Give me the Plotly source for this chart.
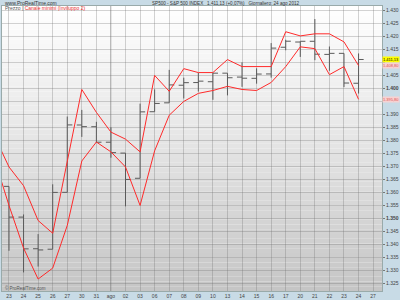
import plotly.graph_objects as go

# ---- data ----
tick_labels = ["23", "24", "25", "26", "27", "30", "31", "ago", "02", "03", "06", "07", "08", "09",
               "10", "13", "14", "15", "16", "17", "20", "21", "22", "23", "24", "27"]

# daily OHLC, 23 lug .. 24 ago 2012
open_ = [1362.34, 1350.52, 1338.35, 1338.17, 1360.05, 1385.94, 1385.27, 1379.32, 1375.13, 1365.45,
         1391.04, 1394.46, 1401.23, 1402.26, 1402.58, 1405.87, 1404.36, 1403.89, 1405.57, 1415.84,
         1417.85, 1418.13, 1413.09, 1413.49, 1401.99]
high = [1362.34, 1351.53, 1343.98, 1363.13, 1389.19, 1391.74, 1387.16, 1385.03, 1375.13, 1394.16,
        1399.63, 1407.14, 1404.14, 1405.95, 1405.98, 1405.87, 1410.03, 1407.73, 1417.44, 1418.71,
        1418.13, 1426.68, 1416.12, 1413.49, 1413.46]
low = [1337.56, 1329.24, 1331.50, 1338.17, 1360.05, 1381.37, 1379.17, 1373.35, 1354.65, 1365.45,
       1391.04, 1394.46, 1396.13, 1398.80, 1395.62, 1397.32, 1400.60, 1401.83, 1404.15, 1414.67,
       1412.12, 1410.86, 1406.78, 1400.50, 1398.04]
close = [1350.52, 1338.31, 1337.89, 1360.02, 1385.97, 1385.30, 1379.32, 1375.32, 1365.00, 1390.99,
         1394.23, 1401.35, 1402.22, 1402.80, 1405.87, 1404.11, 1403.93, 1405.53, 1415.51, 1418.16,
         1418.13, 1413.17, 1413.49, 1402.08, 1411.13]

# envelope lines, 20 lug .. 24 ago (first point is off the left edge)
env_upper = [1381.7, 1369.8, 1362.6, 1349.2, 1344.3, 1371.8, 1399.6, 1390.8, 1383.2, 1380.5, 1375.6,
             1405.0, 1398.9, 1407.6, 1406.1, 1406.1, 1411.1, 1408.4, 1408.4, 1408.4, 1421.8,
             1420.2, 1421.0, 1421.0, 1417.9, 1408.8]
env_lower = [1372.9, 1355.0, 1338.6, 1326.7, 1330.9, 1347.3, 1372.1, 1379.4, 1375.6, 1369.8, 1355.0,
             1376.0, 1389.7, 1395.0, 1398.1, 1399.2, 1400.8, 1399.6, 1399.2, 1402.3, 1408.4,
             1416.0, 1415.3, 1405.3, 1408.4, 1395.8]

y_tick_vals = [1325, 1330, 1335, 1340, 1345, 1350, 1355, 1360, 1365, 1370, 1375, 1380, 1385,
               1390, 1395, 1400, 1405, 1410, 1415, 1420, 1425, 1430]
y_tick_text = ["1.325", "1.330", "1.335", "1.340", "1.345", "<b>1.350</b>", "1.355", "1.360",
               "1.365", "1.370", "1.375", "1.380", "1.385", "1.390", "", "<b>1.400</b>",
               "1.405", "", "1.415", "1.420", "1.425", "1.430"]

month_start_index = 7  # 'ago'


def it_fmt(v):
    s = f"{v:,.2f}"
    return s.replace(",", "#").replace(".", ",").replace("#", ".")


bar_x = list(range(len(close)))
env_x = list(range(-1, len(close)))

FONT = "Liberation Sans, Arial, sans-serif"
fig = go.Figure()

fig.add_trace(go.Ohlc(
    x=bar_x, open=open_, high=high, low=low, close=close,
    increasing=dict(line=dict(color="#5a5a5a", width=1)),
    decreasing=dict(line=dict(color="#5a5a5a", width=1)),
    tickwidth=0.35, hoverinfo="skip"))

for series in (env_upper, env_lower):
    fig.add_trace(go.Scatter(x=env_x, y=series, mode="lines",
                             line=dict(color="#ff2a2a", width=1), hoverinfo="skip"))

# vertical background gradient (white -> grey)
shapes = []
n = 60
for k in range(n):
    t = (k + 0.5) / n  # 0 bottom -> 1 top
    c = int(round(196 + (255 - 196) * t ** 0.9))
    shapes.append(dict(type="rect", xref="paper", yref="paper", x0=0, x1=1,
                       y0=k / n, y1=(k + 1) / n, fillcolor=f"rgb({c},{c},{c})",
                       line=dict(width=0), layer="below"))
shapes.append(dict(type="line", xref="x", yref="paper", x0=month_start_index, x1=month_start_index,
                   y0=0, y1=1, line=dict(color="rgba(110,110,110,0.35)", width=1), layer="below"))

annotations = [
    dict(xref="paper", yref="paper", x=0.003, y=1.0105, xanchor="left", yanchor="middle",
         text="www.ProRealTime.com", showarrow=False, font=dict(size=5, color="#333", family=FONT)),
    dict(xref="paper", yref="paper", x=0.39, y=1.0105, xanchor="left", yanchor="middle",
         text="SP500 - S&P 500 INDEX   " + it_fmt(close[-1]) + " (+0,07%)   Giornaliero: 24 ago 2012",
         showarrow=False, font=dict(size=4.6, color="#333", family=FONT)),
    dict(xref="paper", yref="paper", x=0.003, y=0.993, xanchor="left", yanchor="middle",
         text="Prezzo | <span style='color:#e83030'>Canale minimi (Inviluppo 2)</span>",
         showarrow=False, font=dict(size=5, color="#555", family=FONT)),
    dict(xref="paper", yref="paper", x=0.003, y=0.011, xanchor="left", yanchor="middle",
         text="© ProRealTime.com", showarrow=False, font=dict(size=4.5, color="#555", family=FONT)),
    dict(xref="paper", yref="y", x=1, y=close[-1], xanchor="left", yanchor="middle", xshift=0,
         text=it_fmt(close[-1]), showarrow=False, bgcolor="#ffff00", borderpad=0,
         font=dict(size=4, color="#000", family=FONT)),
    dict(xref="paper", yref="y", x=1, y=env_upper[-1], xanchor="left", yanchor="middle", xshift=0,
         text=it_fmt(env_upper[-1]), showarrow=False, bgcolor="#f6d2d2", borderpad=0,
         font=dict(size=4, color="#e05050", family=FONT)),
    dict(xref="paper", yref="y", x=1, y=env_lower[-1], xanchor="left", yanchor="middle", xshift=0,
         text=it_fmt(env_lower[-1]), showarrow=False, bgcolor="#f6d2d2", borderpad=0,
         font=dict(size=4, color="#e05050", family=FONT)),
]

fig.update_layout(
    width=400, height=300,
    margin=dict(l=1, r=17, t=6, b=7),
    paper_bgcolor="#c8dbe6", plot_bgcolor="#ffffff",
    showlegend=False, separators=",.",
    shapes=shapes, annotations=annotations,
    font=dict(family=FONT, size=5, color="#444"),
    xaxis=dict(range=[-0.48, 25.61], tickvals=list(range(len(tick_labels))), ticktext=tick_labels,
               showgrid=True, gridcolor="rgba(110,110,110,0.3)", gridwidth=1, zeroline=False,
               rangeslider=dict(visible=False), ticks="", tickfont=dict(size=5, color="#444"),
               showline=True, linecolor="#9aa", mirror=True, fixedrange=True),
    yaxis=dict(range=[1322.1, 1431.7], side="right", tickvals=y_tick_vals, ticktext=y_tick_text,
               showgrid=True, gridcolor="rgba(110,110,110,0.3)", gridwidth=1, zeroline=False,
               ticks="outside", ticklen=2, tickcolor="#777", tickfont=dict(size=5, color="#444"),
               showline=True, linecolor="#9aa", mirror=True, fixedrange=True),
)

fig.write_html("out.html")
